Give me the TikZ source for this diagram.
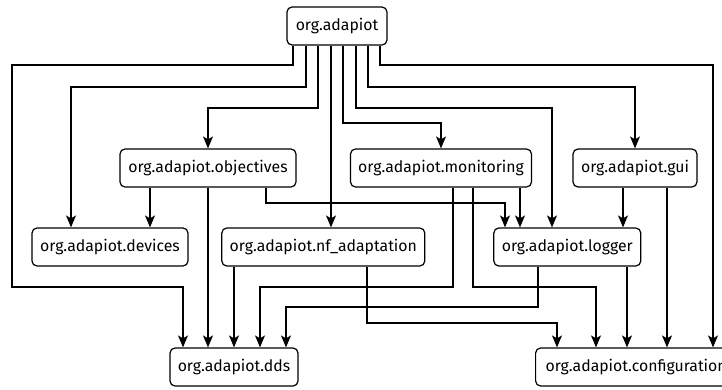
\documentclass[tikz,border=0pt]{standalone}
\usepackage{fontspec}
\setmainfont{Fira Sans}
\usetikzlibrary{arrows.meta}
\begin{document}
\begin{tikzpicture}[x=1pt,y=-1pt,
  pkg/.style={draw, line width=1.2pt, rounded corners=5pt, minimum height=38pt, inner xsep=7pt, font=\fontsize{15.8pt}{19pt}\selectfont},
  arr/.style={line width=1.2pt, -{Stealth[length=12pt,width=10pt,inset=3pt]}}]
\useasboundingbox (0,0) rectangle (722,389);
\node[pkg, minimum width=100pt] (adapiot) at (337,26) {org.adapiot};
\node[pkg, minimum width=176pt] (objectives) at (208,168) {org.adapiot.objectives};
\node[pkg, minimum width=181pt] (monitoring) at (441,168) {org.adapiot.monitoring};
\node[pkg, minimum width=124pt] (gui) at (635,168) {org.adapiot.gui};
\node[pkg, minimum width=156pt] (devices) at (110,247) {org.adapiot.devices};
\node[pkg, minimum width=203pt] (nfa) at (323.3,247) {org.adapiot.nf\_adaptation};
\node[pkg, minimum width=147pt] (logger) at (567.3,247) {org.adapiot.logger};
\node[pkg, minimum width=128pt] (dds) at (234,367) {org.adapiot.dds};
\node[pkg, anchor=west, inner xsep=10pt] (config) at (535,367) {org.adapiot.configuration};
% from org.adapiot
\draw[arr] (adapiot.south -| 293,0) |- (12,65) |- (183,287) -- (dds.north -| 183,0);
\draw[arr] (adapiot.south -| 306,0) |- (71,87) -- (devices.north -| 71,0);
\draw[arr] (adapiot.south -| 318,0) |- (208,108) -- (objectives.north -| 208,0);
\draw[arr] (adapiot.south -| 331,0) -- (nfa.north -| 331,0);
\draw[arr] (adapiot.south -| 343,0) |- (441,123) -- (monitoring.north -| 441,0);
\draw[arr] (adapiot.south -| 356,0) |- (552,108) -- (logger.north -| 552,0);
\draw[arr] (adapiot.south -| 368,0) |- (635,87) -- (gui.north -| 635,0);
\draw[arr] (adapiot.south -| 380,0) |- (713,65) -- (config.north -| 713,0);
% from objectives
\draw[arr] (objectives.south -| 150,0) -- (devices.north -| 150,0);
\draw[arr] (objectives.south -| 208,0) -- (dds.north -| 208,0);
\draw[arr] (objectives.south -| 266,0) |- (505,203) -- (logger.north -| 505,0);
% from monitoring
\draw[arr] (monitoring.south -| 520,0) -- (logger.north -| 520,0);
\draw[arr] (monitoring.south -| 453,0) |- (260,287) -- (dds.north -| 260,0);
\draw[arr] (monitoring.south -| 473,0) |- (596,287) -- (config.north -| 596,0);
% from nf_adaptation
\draw[arr] (nfa.south -| 234,0) -- (dds.north -| 234,0);
\draw[arr] (nfa.south -| 367,0) |- (557,323) -- (config.north -| 557,0);
% from logger
\draw[arr] (logger.south -| 538,0) |- (286,307) -- (dds.north -| 286,0);
\draw[arr] (logger.south -| 627,0) -- (config.north -| 627,0);
% from gui
\draw[arr] (gui.south -| 623,0) -- (logger.north -| 623,0);
\draw[arr] (gui.south -| 667,0) -- (config.north -| 667,0);
\end{tikzpicture}
\end{document}
